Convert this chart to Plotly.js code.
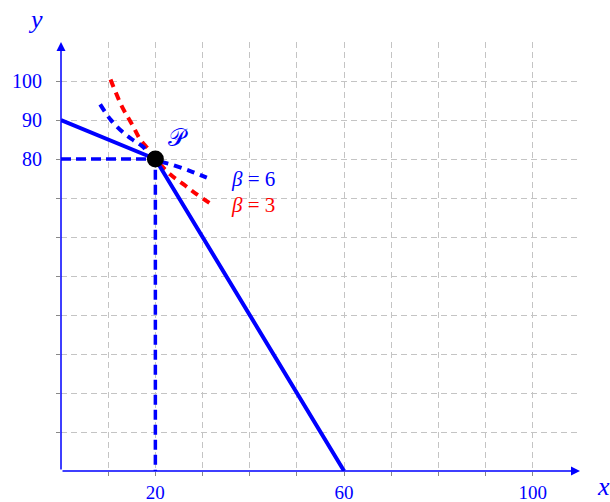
<!DOCTYPE html>
<html>
<head>
<meta charset="utf-8">
<script src="https://cdn.plot.ly/plotly-3.0.1.min.js"></script>
<style>html,body{margin:0;padding:0;background:#fff;}#chart{width:610px;height:502px;}</style>
</head>
<body>
<div id="chart"></div>
<script>
// Budget line with kink at P
const kinkX = [0, 20, 60];
const kinkY = [90, 80, 0];
// Guide lines to P
const guideX = [0, 20, 20];
const guideY = [80, 80, 0];
// Point P
const pX = [20];
const pY = [80];
// Indifference curve beta = 6 (blue)
const beta6X = [8.3, 10.5, 12.9, 15.1, 17.2, 20, 23.9, 27.4, 30.9];
const beta6Y = [94.0, 90.1, 87.1, 85.0, 83.3, 80, 78.4, 76.9, 75.2];
// Indifference curve beta = 3 (red)
const beta3X = [10.5, 12.9, 15.1, 16.8, 18.6, 20, 23.2, 26.0, 28.8, 32.0];
const beta3Y = [100.4, 93.5, 88.8, 85.0, 82.4, 80, 76.0, 73.5, 70.9, 68.3];
// Ticks
const xTickVals = [10, 20, 30, 40, 50, 60, 70, 80, 90, 100];
const xTickText = ['', '20', '', '', '', '60', '', '', '', '100'];
const yTickVals = [10, 20, 30, 40, 50, 60, 70, 80, 90, 100];
const yTickText = ['', '', '', '', '', '', '', '80', '90', '100'];

const BLUE = '#0000ff', RED = '#ff0000';
const FONT = 'Liberation Serif, DejaVu Serif, serif';

const traces = [
  {x: beta3X, y: beta3Y, mode: 'lines', line: {color: RED, width: 4, dash: '8px,6px', shape: 'spline'}, hoverinfo: 'skip'},
  {x: beta6X, y: beta6Y, mode: 'lines', line: {color: BLUE, width: 4, dash: '8px,6px', shape: 'spline'}, hoverinfo: 'skip'},
  {x: guideX, y: guideY, mode: 'lines', line: {color: BLUE, width: 3.5, dash: '10px,5px'}, hoverinfo: 'skip'},
  {x: kinkX, y: kinkY, mode: 'lines', line: {color: BLUE, width: 4}, hoverinfo: 'skip'},
  {x: pX, y: pY, mode: 'markers', marker: {color: '#000', size: 17}, hoverinfo: 'skip'}
];

const layout = {
  width: 610, height: 502,
  margin: {l: 61, r: 30, t: 42, b: 31},
  paper_bgcolor: '#fff', plot_bgcolor: '#fff',
  showlegend: false,
  font: {family: FONT, color: BLUE, size: 19},
  xaxis: {
    range: [0, 110], tickmode: 'array', tickvals: xTickVals, ticktext: xTickText,
    showgrid: true, gridcolor: '#c4c4c4', griddash: '6px,4px', gridwidth: 1,
    zeroline: false, showline: false, ticks: 'outside', ticklen: 4, tickcolor: '#888',
    ticklabelstandoff: 0,
    tickfont: {family: FONT, color: BLUE, size: 19}, fixedrange: true
  },
  yaxis: {
    range: [0, 110], tickmode: 'array', tickvals: yTickVals, ticktext: yTickText,
    showgrid: true, gridcolor: '#c4c4c4', griddash: '6px,4px', gridwidth: 1,
    zeroline: false, showline: false, ticks: 'outside', ticklen: 4, tickcolor: '#888',
    ticklabelstandoff: 10,
    tickfont: {family: FONT, color: BLUE, size: 20}, fixedrange: true
  },
  annotations: [
    // axes with arrows
    {x: 110, y: 0, ax: 0, ay: 0, xref: 'x', yref: 'y', axref: 'x', ayref: 'y', text: '', showarrow: true,
     arrowhead: 2, arrowsize: 1.2, arrowwidth: 1.5, arrowcolor: BLUE},
    {x: 0, y: 110, ax: 0, ay: 0, xref: 'x', yref: 'y', axref: 'x', ayref: 'y', text: '', showarrow: true,
     arrowhead: 2, arrowsize: 1.2, arrowwidth: 1.5, arrowcolor: BLUE},
    // axis titles
    {x: -0.05, y: 1.052, xref: 'paper', yref: 'paper', xanchor: 'center', yanchor: 'middle',
     text: '<i>y</i>', showarrow: false, font: {family: FONT, size: 26, color: BLUE}},
    {x: 1.046, y: -0.036, xref: 'paper', yref: 'paper', xanchor: 'center', yanchor: 'middle',
     text: '<i>x</i>', showarrow: false, font: {family: FONT, size: 26, color: BLUE}},
    // labels
    {x: 24.7, y: 85.5, xref: 'x', yref: 'y', xanchor: 'center', yanchor: 'middle',
     text: '𝒫', showarrow: false, font: {family: 'DejaVu Sans, serif', size: 24, color: BLUE}},
    {x: 40.6, y: 75, xref: 'x', yref: 'y', xanchor: 'center', yanchor: 'middle',
     text: '<i>β</i> = 6', showarrow: false, font: {family: FONT, size: 21, color: BLUE}},
    {x: 40.6, y: 68.3, xref: 'x', yref: 'y', xanchor: 'center', yanchor: 'middle',
     text: '<i>β</i> = 3', showarrow: false, font: {family: FONT, size: 21, color: RED}}
  ]
};

Plotly.newPlot('chart', traces, layout, {displayModeBar: false, staticPlot: true});
</script>
</body>
</html>
